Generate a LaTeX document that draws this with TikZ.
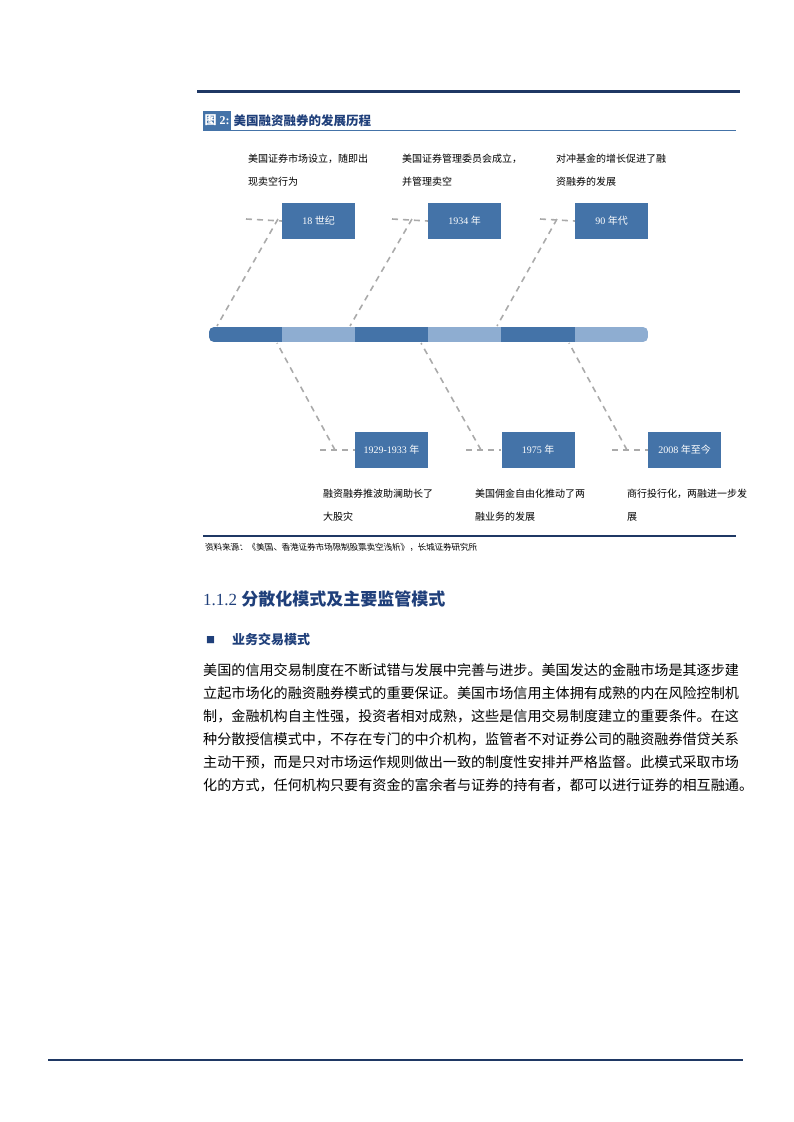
\documentclass[tikz,border=0pt]{standalone}
\usepackage{fontspec}
\setmainfont{Liberation Serif}
\newfontfamily\cjk{Noto Sans CJK SC}
\definecolor{navy}{HTML}{1F3864}
\definecolor{boxblue}{HTML}{4473A8}
\definecolor{lightblue}{HTML}{8EADD1}
\definecolor{titleblue}{HTML}{1F3F7A}
\definecolor{dashgray}{HTML}{AAAAAA}
\tikzset{
 yearbox/.style={fill=boxblue,text=white,minimum width=73pt,minimum height=36pt,inner sep=0pt,font=\fontsize{10}{12}\selectfont},
 conn/.style={draw=dashgray,line width=1.6pt,dash pattern=on 6pt off 5pt},
 note/.style={anchor=north west,inner sep=0pt,align=left,font=\cjk\fontsize{10}{22.5}\selectfont},
 para/.style={anchor=west,inner sep=0pt,font=\cjk\fontsize{14.1}{16}\selectfont},
}
\begin{document}
\begin{tikzpicture}[x=1pt,y=-1pt]
\useasboundingbox (0,0) rectangle (793,1122);
% top line
\draw[navy,line width=3pt] (197,91) -- (740,91);
% title
\node[fill=boxblue,text=white,anchor=west,inner sep=1.5pt,minimum height=19pt,font=\bfseries\fontsize{12}{14}\selectfont] (fig) at (203,120.5) {{\cjk 图} 2:};
\node[anchor=west,inner sep=2pt,text=titleblue,font=\cjk\bfseries\fontsize{12.5}{14}\selectfont] (title) at (fig.east) {美国融资融券的发展历程};
\draw[boxblue,line width=1.5pt] (203,130.5) -- (736,130.5);
% bar
\begin{scope}
\clip[rounded corners=5pt] (209,327) rectangle (648,342);
\fill[boxblue] (209,327) rectangle (282,342);
\fill[lightblue] (282,327) rectangle (355,342);
\fill[boxblue] (355,327) rectangle (428,342);
\fill[lightblue] (428,327) rectangle (501,342);
\fill[boxblue] (501,327) rectangle (575,342);
\fill[lightblue] (575,327) rectangle (648,342);
\end{scope}
% boxes
\node[yearbox] (b1) at (318.5,221) {18 {\cjk 世纪}};
\node[yearbox] (b2) at (464.5,221) {1934 {\cjk 年}};
\node[yearbox] (b3) at (611.5,221) {90 {\cjk 年代}};
\node[yearbox] (c1) at (391.5,450) {1929-1933 {\cjk 年}};
\node[yearbox] (c2) at (538,450) {1975 {\cjk 年}};
\node[yearbox] (c3) at (684.5,450) {2008 {\cjk 年至今}};
% connector coordinates
\coordinate (u1) at (246,219); \coordinate (k1) at (278,219); \coordinate (t1) at (217,326);
\coordinate (u2) at (392,219); \coordinate (k2) at (412,219); \coordinate (t2) at (350,326);
\coordinate (u3) at (540,219); \coordinate (k3) at (557,219); \coordinate (t3) at (497,326);
\coordinate (l1) at (320,450); \coordinate (m1) at (335,450); \coordinate (s1) at (277,343);
\coordinate (l2) at (466,450); \coordinate (m2) at (481,450); \coordinate (s2) at (421,343);
\coordinate (l3) at (612,450); \coordinate (m3) at (627,450); \coordinate (s3) at (569,343);
\draw[conn] (u1) -- (b1.west); \draw[conn] (k1) -- (t1);
\draw[conn] (u2) -- (b2.west); \draw[conn] (k2) -- (t2);
\draw[conn] (u3) -- (b3.west); \draw[conn] (k3) -- (t3);
\draw[conn] (l1) -- (c1.west); \draw[conn] (m1) -- (s1);
\draw[conn] (l2) -- (c2.west); \draw[conn] (m2) -- (s2);
\draw[conn] (l3) -- (c3.west); \draw[conn] (m3) -- (s3);
% notes
\node[note] (n1) at (248,154) {美国证券市场设立，随即出\\现卖空行为};
\node[note] (n2) at (402,154) {美国证券管理委员会成立，\\并管理卖空};
\node[note] (n3) at (556,154) {对冲基金的增长促进了融\\资融券的发展};
\node[note] (n4) at (323,489) {融资融券推波助澜助长了\\大股灾};
\node[note] (n5) at (475,489) {美国佣金自由化推动了两\\融业务的发展};
\node[note] (n6) at (627,489) {商行投行化，两融进一步发\\展};
% source
\draw[navy,line width=2pt] (203,536) -- (736,536);
\node[anchor=west,inner sep=0pt,font=\cjk\fontsize{8.5}{10}\selectfont,xslant=-0.2] (src) at (205,547) {资料来源：《美国、香港证券市场限制股票卖空浅析》，长城证券研究所};
% heading
\node[anchor=west,inner sep=0pt,text=titleblue,font=\fontsize{17}{20}\selectfont] (h) at (203,599) {1.1.2 {\cjk\bfseries 分散化模式及主要监管模式}};
\node[anchor=west,inner sep=0pt,text=titleblue,font=\cjk\fontsize{9}{10}\selectfont] (sq) at (206,640) {■};
\node[anchor=west,inner sep=0pt,text=titleblue,font=\cjk\bfseries\fontsize{13}{15}\selectfont] (sub) at (232,640) {业务交易模式};
% paragraph
\node[para] (p1) at (203,670) {美国的信用交易制度在不断试错与发展中完善与进步。美国发达的金融市场是其逐步建};
\node[para] (p2) at (203,693) {立起市场化的融资融券模式的重要保证。美国市场信用主体拥有成熟的内在风险控制机};
\node[para] (p3) at (203,716) {制，金融机构自主性强，投资者相对成熟，这些是信用交易制度建立的重要条件。在这};
\node[para] (p4) at (203,739) {种分散授信模式中，不存在专门的中介机构，监管者不对证券公司的融资融券借贷关系};
\node[para] (p5) at (203,762) {主动干预，而是只对市场运作规则做出一致的制度性安排并严格监督。此模式采取市场};
\node[para] (p6) at (203,785) {化的方式，任何机构只要有资金的富余者与证券的持有者，都可以进行证券的相互融通。};
% bottom line
\draw[navy,line width=2pt] (48,1060) -- (743,1060);
\end{tikzpicture}
\end{document}
